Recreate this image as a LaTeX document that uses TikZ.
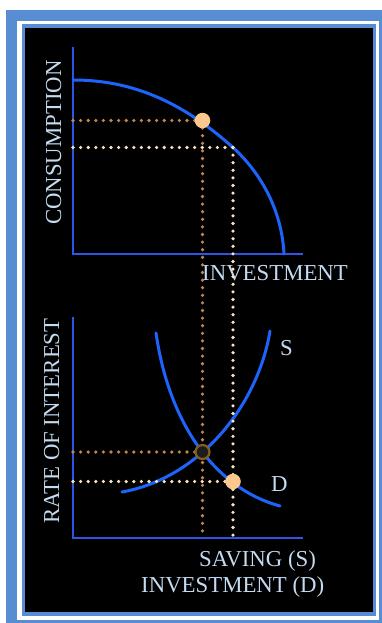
\documentclass[tikz,border=0pt]{standalone}
\usepackage{fontspec}
\setmainfont{Liberation Serif}
\definecolor{frameblue}{RGB}{88,141,212}
\definecolor{axisblue}{RGB}{45,85,230}
\definecolor{curveblue}{RGB}{30,100,250}
\definecolor{labelblue}{RGB}{195,218,240}
\definecolor{browndot}{RGB}{190,135,80}
\definecolor{creamdot}{RGB}{252,226,186}
\definecolor{peach}{RGB}{252,200,142}
\definecolor{ringbrown}{RGB}{130,95,30}
\definecolor{eqfill}{RGB}{28,28,28}
\begin{document}
\begin{tikzpicture}[x=1pt,y=-1pt,
  axisline/.style={draw=axisblue,line width=2.4pt},
  curveline/.style={draw=curveblue,line width=3pt,line cap=round},
  dotline/.style={line width=3.6pt,dash pattern=on 0pt off 7.6pt,line cap=round},
  lbl/.style={text=labelblue,inner sep=0pt,font=\fontsize{22.8}{27}\selectfont},
  peachdot/.style={circle,fill=peach,inner sep=0pt,minimum size=15.5pt},
  eqdot/.style={circle,fill=eqfill,draw=ringbrown,line width=2.2pt,inner sep=0pt,minimum size=14pt}]
\useasboundingbox (0,0) rectangle (382,623);
% frame
\fill[white] (0,0) rectangle (382,623);
\fill[frameblue] (6,10) rectangle (382,623);
\fill[white] (17,21) rectangle (379,620);
\fill[frameblue] (22,24) rectangle (376,616);
\fill[black] (25,28) rectangle (373,612);
% coordinates
\coordinate (tTop) at (73,47);
\coordinate (tOrig) at (73,254);
\coordinate (tEnd) at (303,254);
\coordinate (bTop) at (73,317);
\coordinate (bOrig) at (73,538);
\coordinate (bEnd) at (303,538);
\coordinate (p1) at (202.5,120.5);
\coordinate (p2) at (233,147.5);
\coordinate (p3) at (202.5,452);
\coordinate (p4) at (233,481.5);
% labels
\node[lbl,rotate=90,anchor=base] (consLbl) at (61,142.5) {CONSUMPTION};
\node[lbl,rotate=90,anchor=base] (rateLbl) at (59,421) {RATE OF INTEREST};
\node[lbl,anchor=base west] (invLbl) at (202,280) {INVESTMENT};
\node[lbl,anchor=base west] (savLbl) at (199,566) {SAVING (S)};
\node[lbl,anchor=base west] (invDLbl) at (141,592) {INVESTMENT (D)};
\node[lbl,anchor=base west] (sLbl) at (280,355) {S};
\node[lbl,anchor=base west] (dLbl) at (271,491) {D};
% axes
\draw[axisline] (tTop) -- (tOrig) -- (tEnd);
\draw[axisline] (bTop) -- (bOrig) -- (bEnd);
% curves
\draw[curveline] (73,80) .. controls (130,80) and (180,100) .. (p2)
                 .. controls (265,177) and (282,215) .. (284,254);
\draw[curveline] (122,492) .. controls (200,478) and (258,405) .. (270,331);
\draw[curveline] (156,333) .. controls (170,430) and (220,490) .. (280,506);
% dotted guide lines
\draw[dotline,draw=browndot] (p1 -| tOrig) -- (p1);
\draw[dotline,draw=browndot] (p1) -- (p1 |- bOrig);
\draw[dotline,draw=browndot] (p3 -| bOrig) -- (p3);
\draw[dotline,draw=creamdot] (p2 -| tOrig) -- (p2);
\draw[dotline,draw=creamdot] (p2) -- (p2 |- bOrig);
\draw[dotline,draw=creamdot] (p4 -| bOrig) -- (p4);
% points
\node[peachdot] (ptA) at (p1) {};
\node[eqdot] (ptE) at (p3) {};
\node[peachdot] (ptB) at (p4) {};
\end{tikzpicture}
\end{document}
